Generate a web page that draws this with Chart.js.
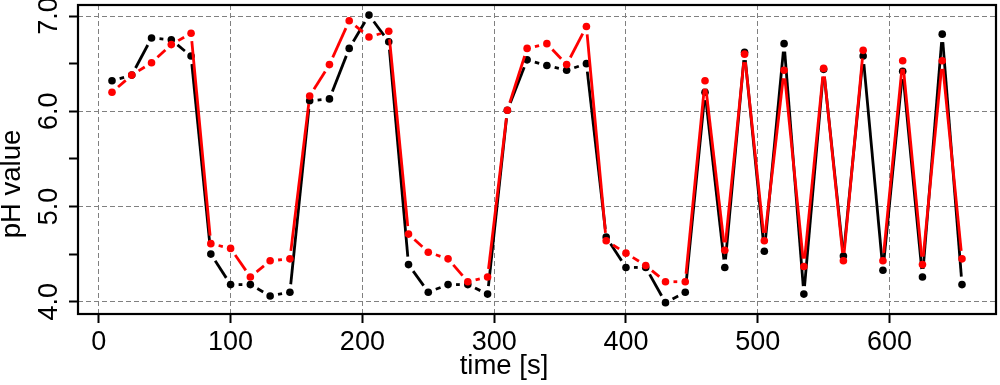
<!DOCTYPE html>
<html>
<head>
<meta charset="utf-8">
<script src="https://cdn.jsdelivr.net/npm/chart.js@4.4.1/dist/chart.umd.min.js"></script>
<style>
  html, body { margin: 0; padding: 0; background: #fff; }
  #wrap { width: 1000px; height: 385px; position: relative; }
</style>
</head>
<body>
<div id="wrap"><canvas id="chart"></canvas></div>
<script>
// time of each sample [s]
var timeSec = [10, 25, 40, 55, 70, 85, 100, 115, 130, 145, 160, 175, 190, 205, 220,
               235, 250, 265, 280, 295, 310, 325, 340, 355, 370, 385, 400, 415, 430, 445,
               460, 475, 490, 505, 520, 535, 550, 565, 580, 595, 610, 625, 640, 655];

// pH readings, black series
var phBlack = [6.32, 6.38, 6.77, 6.75, 6.58, 4.50, 4.18, 4.18, 4.06, 4.10,
               6.11, 6.13, 6.66, 7.01, 6.73, 4.39, 4.10, 4.18, 4.18, 4.08,
               6.01, 6.54, 6.48, 6.43, 6.50, 4.68, 4.36, 4.36, 3.99, 4.10,
               6.20, 4.36, 6.62, 4.53, 6.71, 4.08, 6.44, 4.48, 6.58, 4.33,
               6.42, 4.26, 6.81, 4.18];

// pH readings, red series
var phRed = [6.20, 6.38, 6.51, 6.70, 6.82, 4.61, 4.56, 4.26, 4.43, 4.45,
             6.16, 6.49, 6.95, 6.78, 6.84, 4.71, 4.52, 4.45, 4.21, 4.26,
             6.01, 6.66, 6.71, 6.49, 6.89, 4.64, 4.51, 4.38, 4.21, 4.21,
             6.32, 4.54, 6.60, 4.64, 6.43, 4.37, 6.45, 4.43, 6.64, 4.43,
             6.53, 4.39, 6.53, 4.45];

var xTicks = [0, 100, 200, 300, 400, 500, 600];
var yTicks = [4.0, 4.5, 5.0, 5.5, 6.0, 6.5, 7.0];

var FONT = '"Liberation Sans", Arial, sans-serif';
var GAP = 8; // blank space left around each point (like R type="b")

function toXY(ys) {
    return timeSec.map(function(t, i) { return {x: t, y: ys[i]}; });
}

// each segment is stroked alone, leaving a gap near both points
function gapDash(ctx) {
    var dx = ctx.p1.x - ctx.p0.x;
    var dy = ctx.p1.y - ctx.p0.y;
    var len = Math.sqrt(dx * dx + dy * dy);
    var vis = Math.max(len - 2 * GAP, 0);
    return [0, GAP, vis, 2000 + len];
}

var framePlugin = {
    id: 'frame',
    afterDraw: function(chart) {
        var a = chart.chartArea;
        var c = chart.ctx;
        c.save();
        c.strokeStyle = '#000';
        c.lineWidth = 2.2;
        c.strokeRect(a.left, a.top, a.right - a.left, a.bottom - a.top);

        c.fillStyle = '#000';
        c.font = '27.5px ' + FONT;
        c.textAlign = 'center';
        c.textBaseline = 'alphabetic';
        c.fillText('time [s]', 504, 374);

        c.translate(20, 184);
        c.rotate(-Math.PI / 2);
        c.fillText('pH value', 0, 0);
        c.restore();
    }
};

var ctx = document.getElementById('chart').getContext('2d');

window.chart = new Chart(ctx, {
    type: 'line',
    data: {
        datasets: [
            {
                label: 'black',
                data: toXY(phBlack),
                borderColor: '#000000',
                backgroundColor: '#000000',
                borderWidth: 2.8,
                pointRadius: 3.8,
                pointBorderWidth: 0,
                tension: 0,
                order: 2,
                segment: { borderDash: gapDash }
            },
            {
                label: 'red',
                data: toXY(phRed),
                borderColor: '#ff0000',
                backgroundColor: '#ff0000',
                borderWidth: 2.8,
                pointRadius: 3.8,
                pointBorderWidth: 0,
                tension: 0,
                order: 1,
                segment: { borderDash: gapDash }
            }
        ]
    },
    options: {
        responsive: true,
        maintainAspectRatio: false,
        animation: false,
        layout: { padding: { top: 5, right: 2, left: 0, bottom: 0 } },
        plugins: {
            legend: { display: false },
            tooltip: { enabled: false }
        },
        scales: {
            x: {
                type: 'linear',
                min: -15.8,
                max: 680.8,
                afterBuildTicks: function(scale) {
                    scale.ticks = xTicks.map(function(v) { return {value: v}; });
                },
                afterFit: function(scale) {
                    scale.height = 71;
                    scale.paddingLeft = 0;
                    scale.paddingRight = 0;
                },
                border: { display: false, dash: [5, 3] },
                grid: {
                    color: '#808080',
                    lineWidth: 1,
                    drawTicks: true,
                    tickLength: 9,
                    tickColor: '#000',
                    tickWidth: 2,
                    tickBorderDash: []
                },
                ticks: {
                    color: '#000',
                    padding: 3,
                    maxRotation: 0,
                    font: { family: FONT, size: 27 }
                }
            },
            y: {
                type: 'linear',
                min: 3.871,
                max: 7.116,
                afterBuildTicks: function(scale) {
                    scale.ticks = yTicks.map(function(v) { return {value: v}; });
                },
                afterFit: function(scale) {
                    scale.width = 78;
                    scale.paddingTop = 0;
                    scale.paddingBottom = 0;
                },
                border: { display: false, dash: [5, 3] },
                grid: {
                    color: function(c) {
                        return (c.tick && c.tick.value % 1 === 0) ? '#808080' : 'rgba(0,0,0,0)';
                    },
                    lineWidth: 1,
                    drawTicks: true,
                    tickLength: 9,
                    tickColor: '#000',
                    tickWidth: 2,
                    tickBorderDash: []
                },
                ticks: {
                    color: '#000',
                    padding: 1,
                    minRotation: 90,
                    maxRotation: 90,
                    crossAlign: 'center',
                    font: { family: FONT, size: 27 },
                    callback: function(v) {
                        return v % 1 === 0 ? v.toFixed(1) : '';
                    }
                }
            }
        }
    },
    plugins: [framePlugin]
});
</script>
</body>
</html>
